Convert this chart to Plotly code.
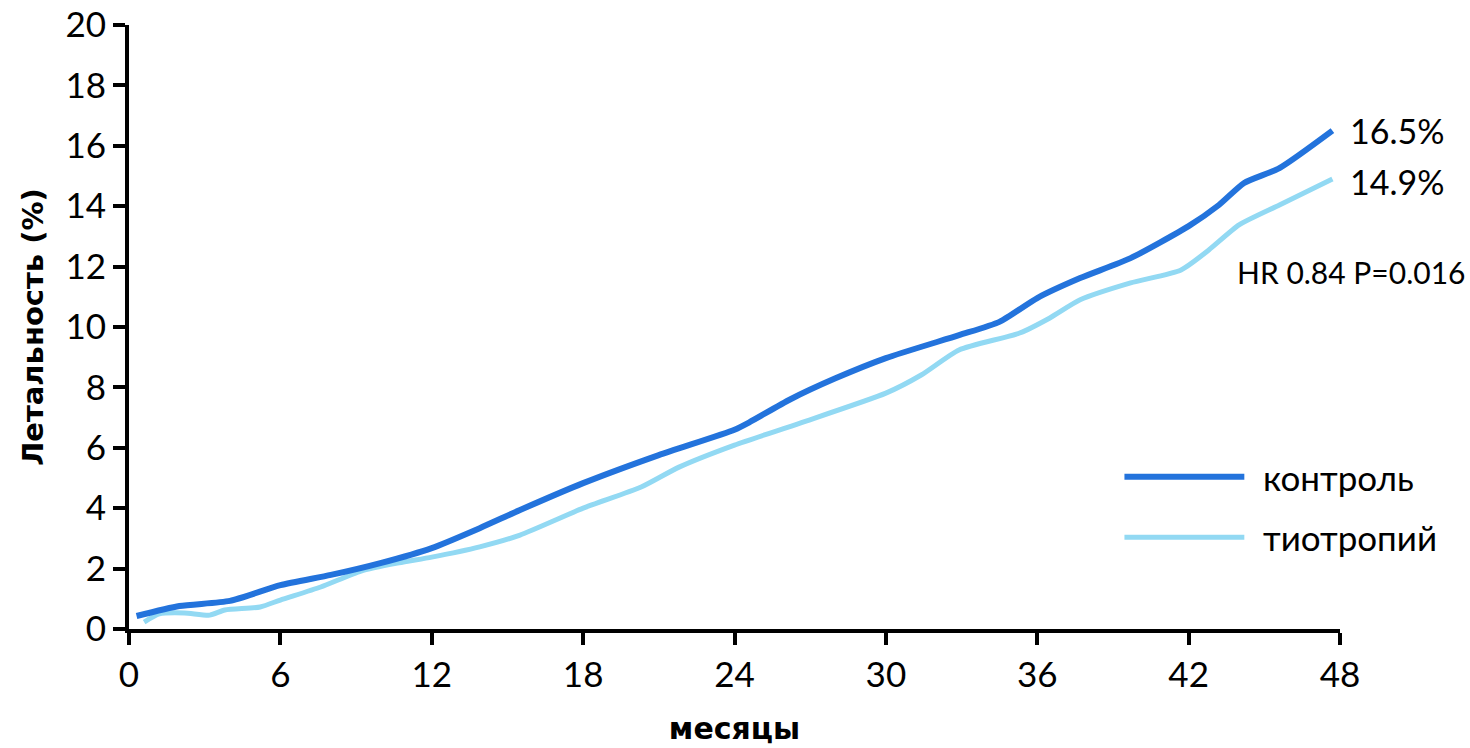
import plotly.graph_objects as go

# Cumulative mortality (%) by month
months_control = [0.3, 2, 4, 6, 8, 10, 12, 13.9, 15.5, 18, 21, 24, 24.6, 26.2, 28, 30, 32.9,
                  34.5, 36, 37.7, 39.7, 42, 43.2, 44.2, 45.6, 47.7]
control = [0.43, 0.76, 0.93, 1.45, 1.79, 2.19, 2.68, 3.34, 3.94, 4.83, 5.76, 6.6, 6.85, 7.6,
           8.3, 8.97, 9.73, 10.17, 10.96, 11.62, 12.28, 13.34, 14.04, 14.77, 15.26, 16.5]

months_tio = [0.6, 1.2, 2.2, 3.2, 3.8, 5.2, 6, 7.6, 9.2, 10.7, 12, 13.9, 15.5, 18, 20.3, 21.8,
              24, 26.6, 30, 31.4, 32.9, 35.3, 36.5, 37.7, 39.7, 41.7, 42.8, 44, 45.6, 47.7]
tiotropium = [0.23, 0.5, 0.53, 0.46, 0.63, 0.73, 0.96, 1.39, 1.92, 2.19, 2.38, 2.72, 3.11, 4.0,
              4.7, 5.36, 6.09, 6.82, 7.81, 8.41, 9.24, 9.8, 10.3, 10.9, 11.46, 11.89, 12.55,
              13.38, 14.04, 14.9]

x_ticks = [0, 6, 12, 18, 24, 30, 36, 42, 48]
y_ticks = [0, 2, 4, 6, 8, 10, 12, 14, 16, 18, 20]

series_names = ["контроль", "тиотропий"]
final_labels = ["16.5%", "14.9%"]
stats_text = "HR 0.84 P=0.016"

C_CONTROL = "#2373dc"
C_TIO = "#92d9f3"
TICK_FONT = "Lato"
TITLE_FONT = "DejaVu Sans"

fig = go.Figure()
fig.add_trace(go.Scatter(x=months_tio, y=tiotropium, mode="lines", name=series_names[1],
                         line=dict(color=C_TIO, width=5, shape="spline", smoothing=0.6)))
fig.add_trace(go.Scatter(x=months_control, y=control, mode="lines", name=series_names[0],
                         line=dict(color=C_CONTROL, width=6, shape="spline", smoothing=0.6)))

# End-of-follow-up values
fig.add_annotation(x=months_control[-1], y=control[-1], xref="x", yref="y", text=final_labels[0],
                   showarrow=False, xanchor="left", xshift=16, yshift=0,
                   font=dict(family=TICK_FONT, size=34, color="black"))
fig.add_annotation(x=months_tio[-1], y=tiotropium[-1], xref="x", yref="y", text=final_labels[1],
                   showarrow=False, xanchor="left", xshift=16, yshift=-2,
                   font=dict(family=TICK_FONT, size=34, color="black"))
fig.add_annotation(x=1.0, y=12, xref="paper", yref="y", text=stats_text, showarrow=False,
                   xanchor="center", xshift=11, yshift=-5,
                   font=dict(family=TICK_FONT, size=30, color="black"))

# Legend drawn with long line samples
legend_rows = [(series_names[0], C_CONTROL, 6, 0.252), (series_names[1], C_TIO, 5, 0.152)]
for name, color, width, ypos in legend_rows:
    fig.add_shape(type="line", xref="paper", yref="paper", x0=0.822, x1=0.921, y0=ypos, y1=ypos,
                  line=dict(color=color, width=width))
    fig.add_annotation(x=0.935, y=ypos, xref="paper", yref="paper", text=name, showarrow=False,
                       xanchor="left", yanchor="middle",
                       font=dict(family=TICK_FONT, size=35, color="black"))

fig.update_layout(
    width=1470, height=748,
    margin=dict(l=129, r=130, t=25, b=119),
    paper_bgcolor="white", plot_bgcolor="white",
    showlegend=False,
    xaxis=dict(range=[0, 48], tickvals=x_ticks, ticks="outside", ticklen=12, tickwidth=4,
               tickcolor="black", showline=True, linecolor="black", linewidth=4,
               showgrid=False, zeroline=False, automargin=False,
               tickfont=dict(family=TICK_FONT, size=35, color="black"),
               title=dict(text="<b>месяцы</b>", standoff=26,
                          font=dict(family=TITLE_FONT, size=30, color="black"))),
    yaxis=dict(range=[0, 20], tickvals=y_ticks, ticks="outside", ticklen=12, tickwidth=4,
               tickcolor="black", showline=True, linecolor="black", linewidth=4,
               showgrid=False, zeroline=False, automargin=False,
               tickfont=dict(family=TICK_FONT, size=35, color="black"),
               title=dict(text="<b>Летальность (%)</b>", standoff=14,
                          font=dict(family=TITLE_FONT, size=29, color="black"))),
)

fig.write_html("out.html")
